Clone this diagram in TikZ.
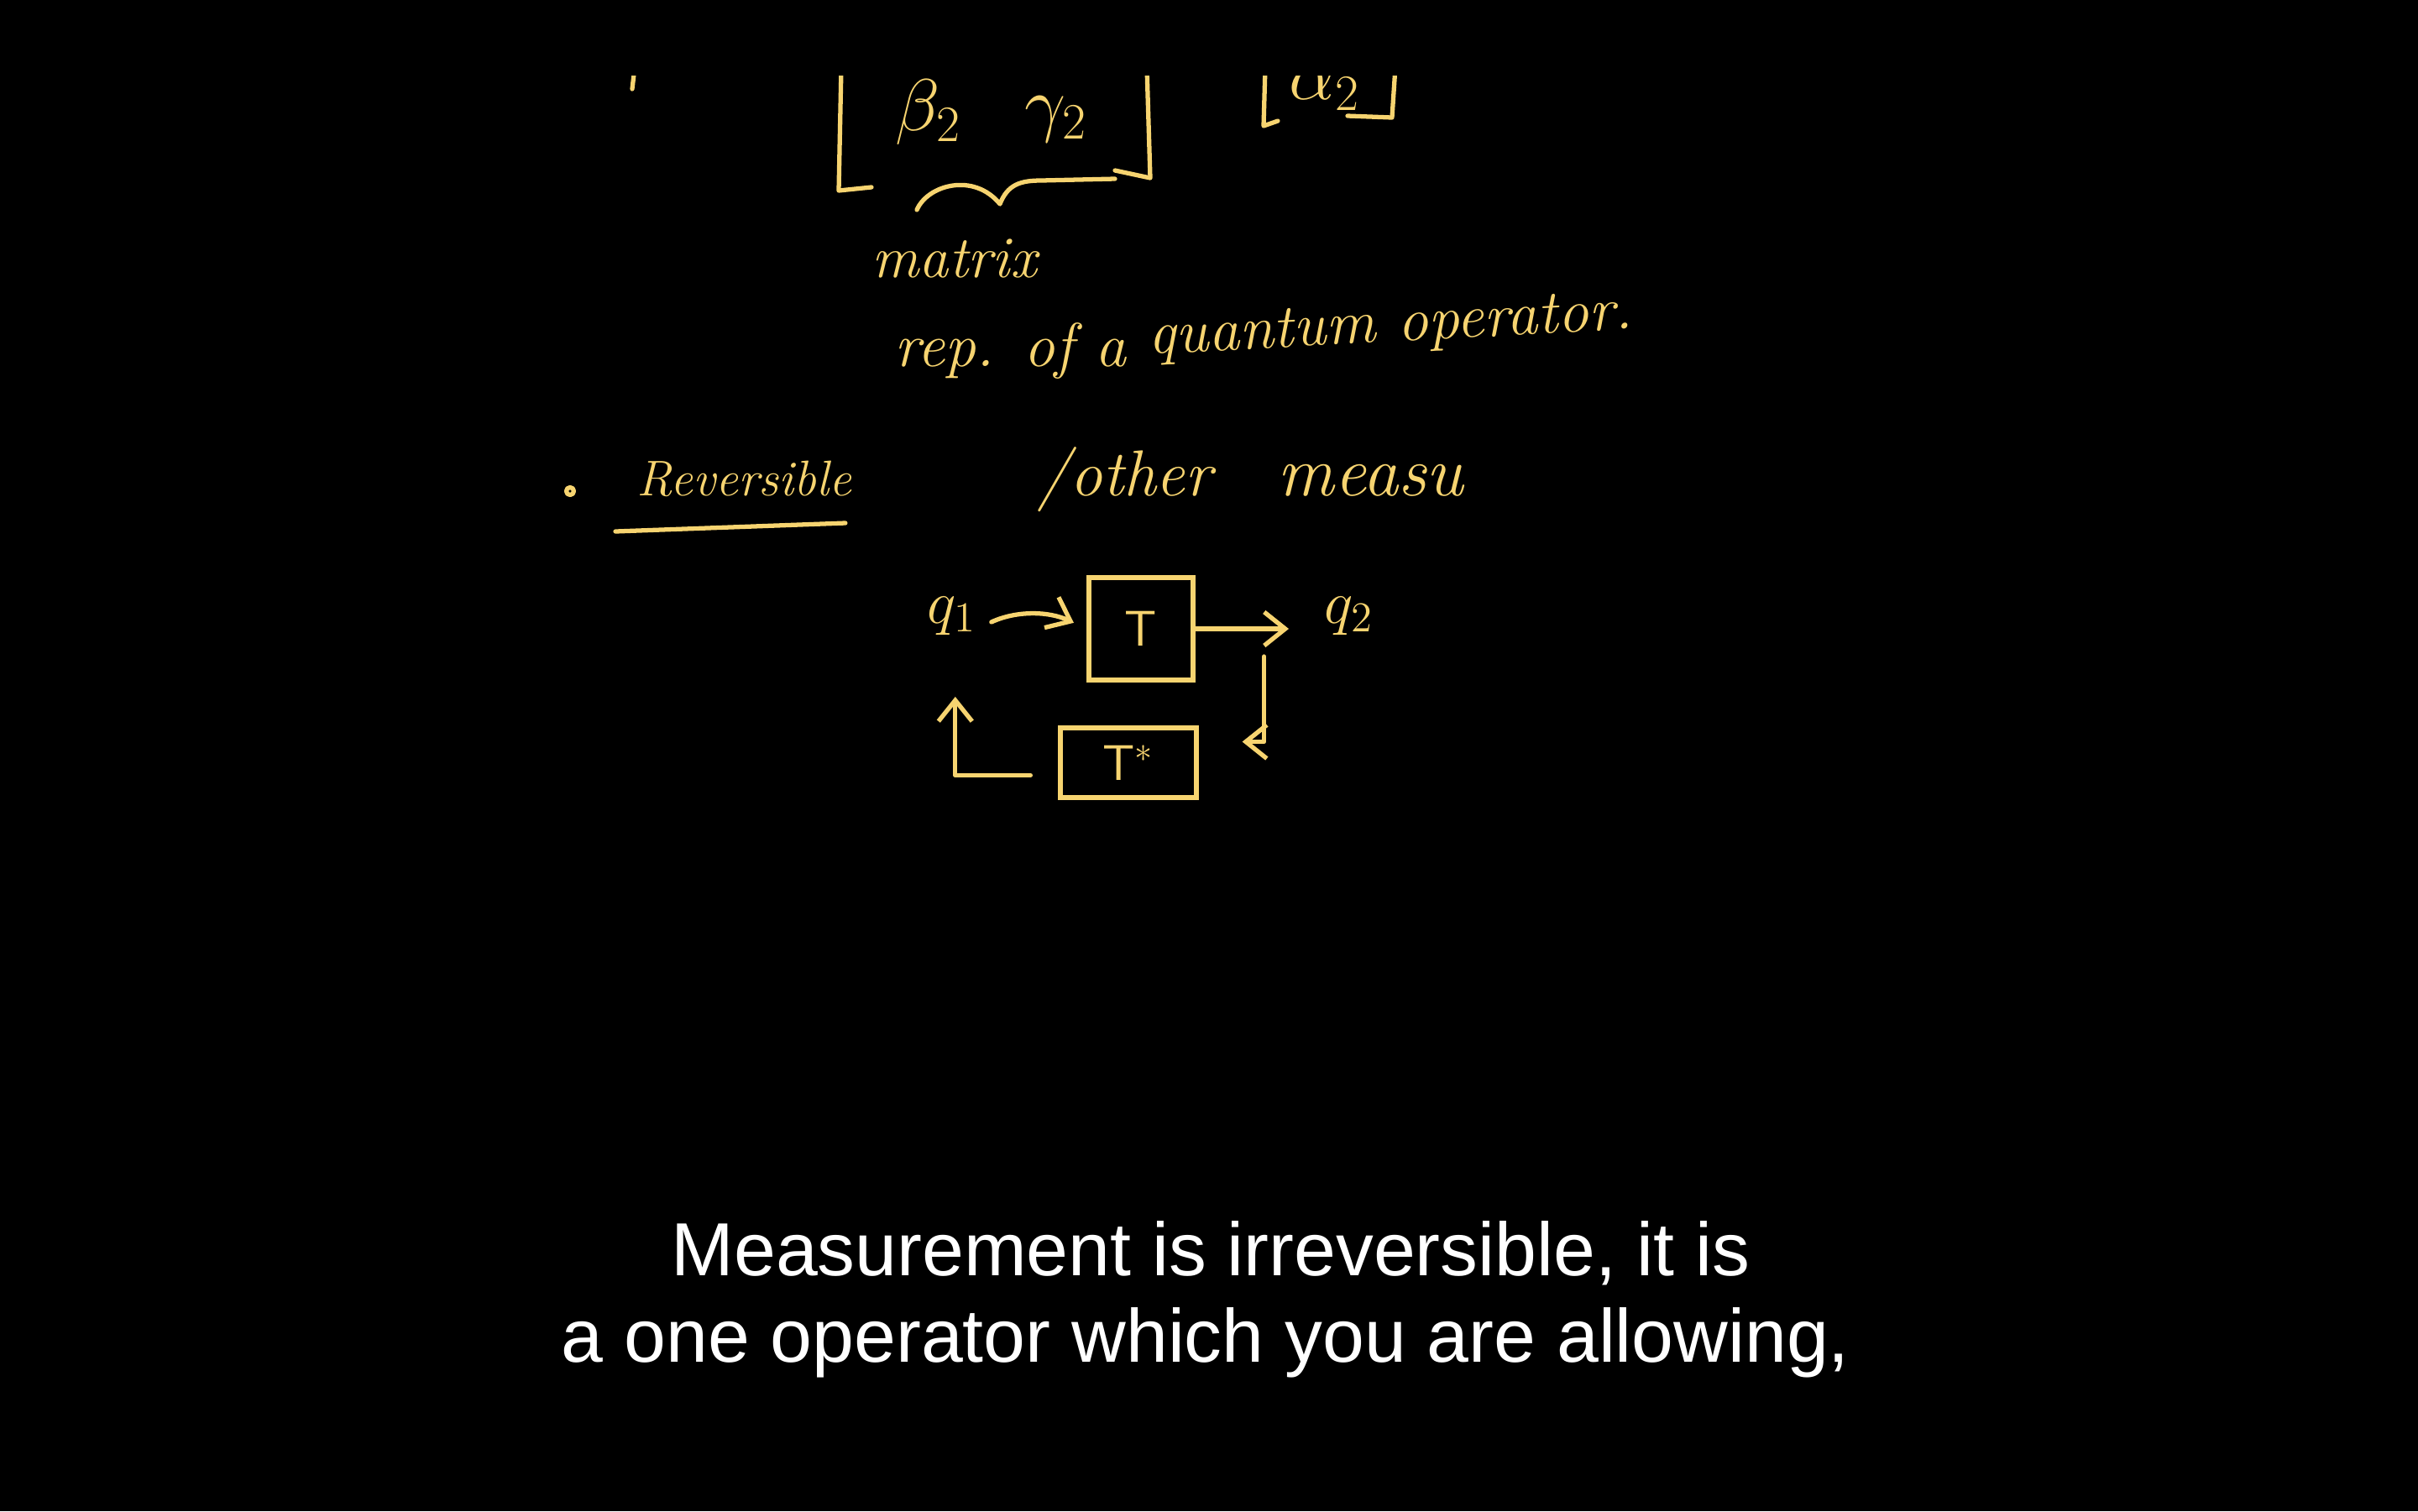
\documentclass[tikz,border=0pt]{standalone}
\usepackage{fontspec}
\newfontfamily\captionfont{Liberation Sans}
\usetikzlibrary{arrows.meta,positioning,calc}
\definecolor{chalkYellow}{RGB}{247,212,112}
\definecolor{boardBg}{RGB}{0,0,0}

\begin{document}
\begin{tikzpicture}[
  x=1cm, y=-1cm,
  chalk/.style={text=chalkYellow, inner sep=0pt, anchor=base west},
  stroke/.style={draw=chalkYellow, line width=1.5pt, line cap=round, line join=round},
  gate/.style={draw=chalkYellow, line width=1.5pt, text=chalkYellow, inner sep=0pt, font=\sffamily\fontsize{17}{19}\selectfont},
  arrow/.style={stroke, -{Straight Barb[length=2.5mm, width=4mm]}},
  caption/.style={text=white, anchor=base, font=\captionfont\fontsize{25.5}{29}\selectfont}
]

% Board
\useasboundingbox (0,0) rectangle (28.8,18.0);
\fill[boardBg] (0,0) rectangle (28.8,18.0);

% Top matrix (cut off)
\begin{scope}
\clip (0,0.9) rectangle (28.8,18.0);
\draw[stroke] (7.56,0.80) -- (7.53,1.06);
\draw[stroke] (10.02,0.80) -- (9.99,2.27) -- (10.38,2.23);
\draw[stroke] (13.66,0.80) -- (13.70,2.12) -- (13.28,2.03);
\node[chalk, font=\fontsize{24}{28}\selectfont] (beta) at (10.66,1.55) {$\beta_2$};
\node[chalk, font=\fontsize{24}{28}\selectfont] (gamma) at (12.20,1.52) {$\gamma_2$};
\draw[stroke] (15.07,0.80) -- (15.05,1.50) -- (15.22,1.44);
\draw[stroke] (16.62,0.80) -- (16.58,1.40) -- (16.05,1.38);
\node[chalk, font=\fontsize{24}{28}\selectfont] (alpha) at (15.35,1.18) {$\alpha_2$};
\end{scope}
\draw[stroke] (10.92,2.50) .. controls (11.05,2.20) and (11.60,2.05) .. (11.91,2.43)
  .. controls (12.00,2.20) and (12.15,2.15) .. (12.40,2.15) -- (13.28,2.13);

\node[chalk, font=\itshape\fontsize{20}{24}\selectfont] (matrix) at (10.38,3.30) {matrix};
\node[chalk, font=\itshape\fontsize{21}{24}\selectfont] (rep) at (10.65,4.36) {rep. of a};
\node[chalk, rotate=3, font=\itshape\fontsize{21}{24}\selectfont] (quantop) at (13.68,4.22) {quantum operator.};

% Reversible
\draw[stroke] (6.79,5.85) circle (0.045);
\node[chalk, font=\itshape\fontsize{17}{20}\selectfont] (rev) at (7.58,5.90) {Reversible};
\draw[stroke] ($(rev.base west)+(-0.25,0.43)$) -- ($(rev.base east)+(-0.08,0.33)$);
\node[chalk, font=\itshape\fontsize{22}{24}\selectfont] (other) at (12.35,5.90) {/other};
\node[chalk, font=\itshape\fontsize{24}{26}\selectfont] (measu) at (15.21,5.90) {measu};

% T and its inverse
\node[chalk, font=\fontsize{20}{24}\selectfont] (q1) at (11.04,7.42) {$q_1$};
\node[gate, minimum width=1.24cm, minimum height=1.22cm] (tbox) at (13.59,7.49) {T};
\node[chalk, font=\fontsize{20}{24}\selectfont] (q2) at (15.77,7.42) {$q_2$};
\node[gate, minimum width=1.62cm, minimum height=0.83cm] (tstar) at (13.44,9.085) {T$^*$};

\draw[arrow, shorten <=0.19cm, shorten >=0.17cm] (q1.east |- tbox.west) to[bend left=25] (tbox.west);
\draw[arrow, shorten >=0.42cm] (tbox.east) -- (tbox.east -| q2.west);
\coordinate (drop) at ($(tbox.east)+(0.82,0.33)$);
\draw[arrow] (drop) |- ($(tstar.east)+(0.52,-0.25)$);
\draw[arrow] ($(tstar.west)+(-0.33,0.15)$) -| ($(q1.south)+(0.04,0.73)$);

% Subtitle
\node[caption] (sub1) at (14.42,15.19) {Measurement is irreversible, it is};
\node[caption] (sub2) at (14.36,16.22) {a one operator which you are allowing,};

\end{tikzpicture}
\end{document}
